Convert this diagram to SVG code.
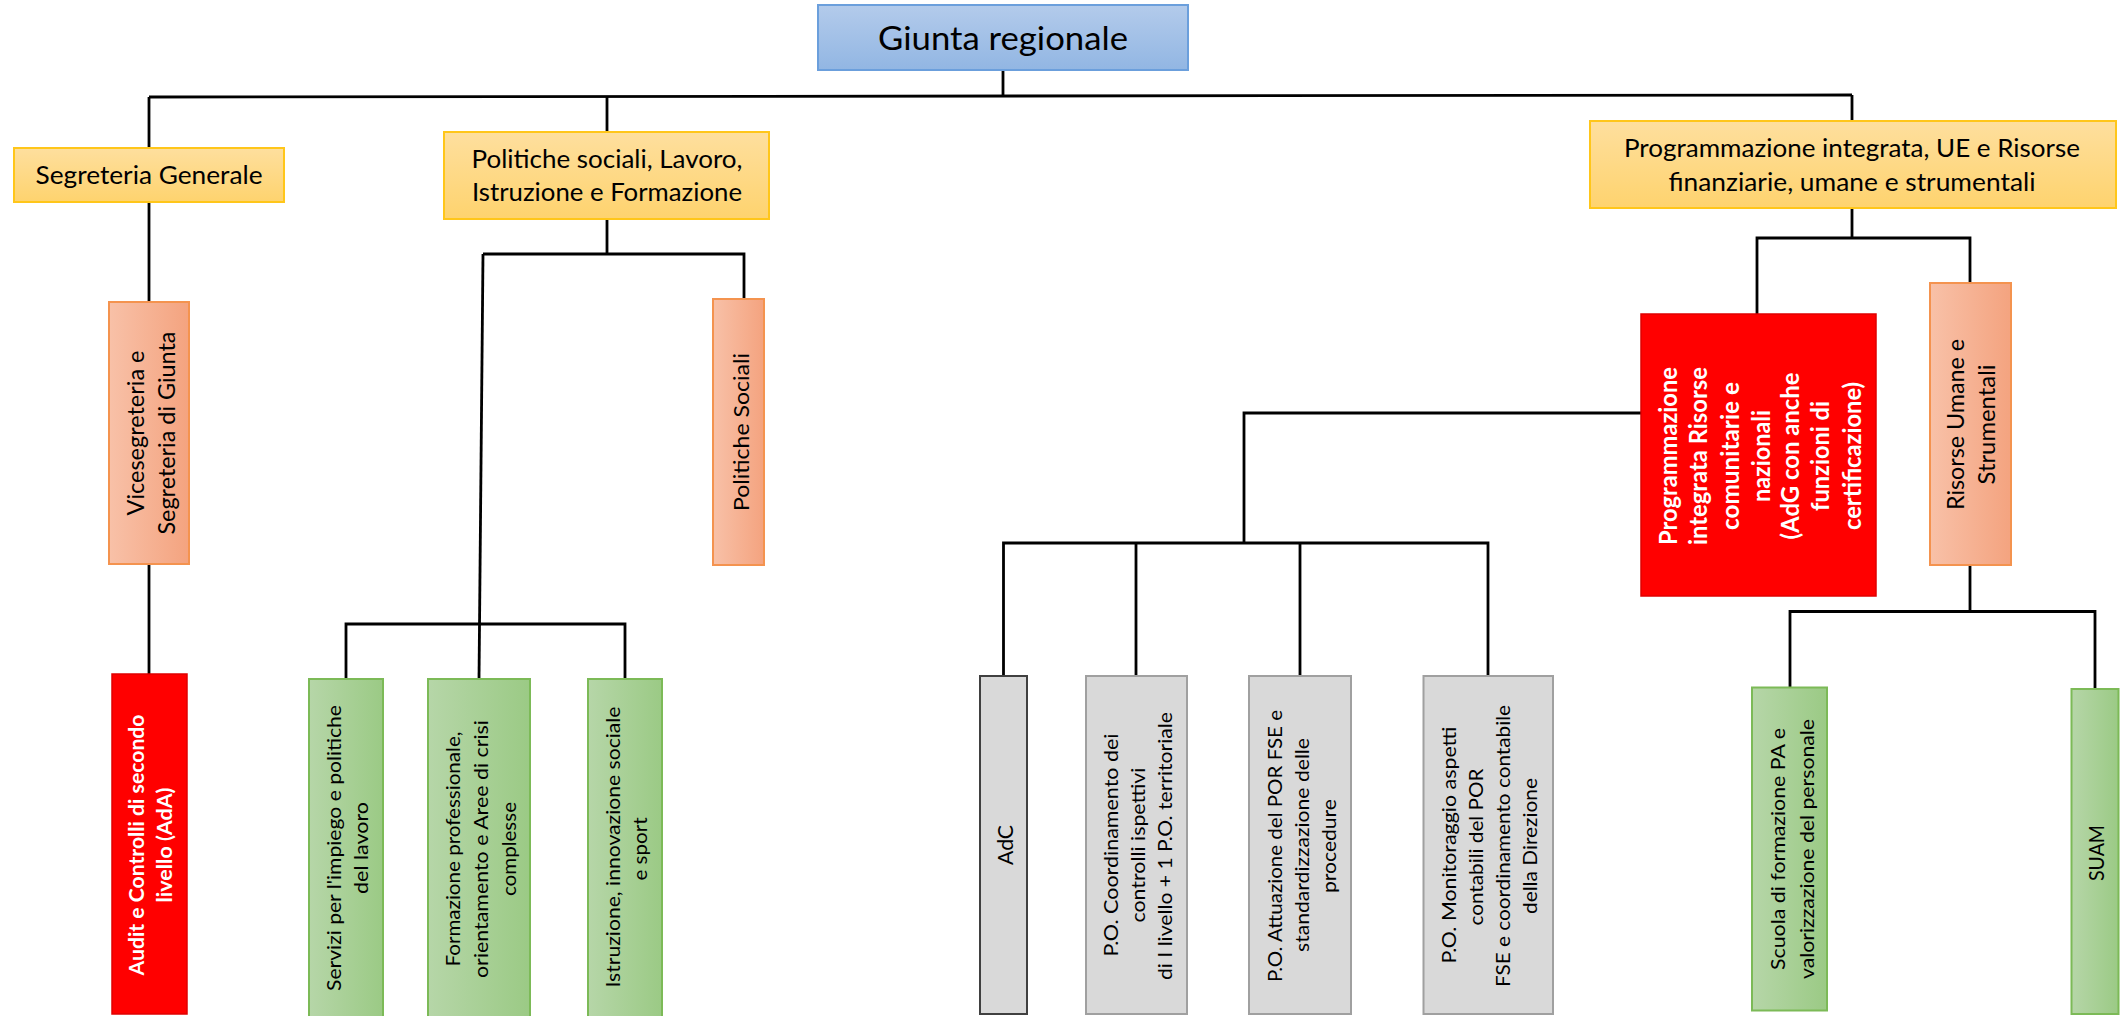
<svg xmlns="http://www.w3.org/2000/svg" width="2128" height="1016" viewBox="0 0 2128 1016">
<defs>
<linearGradient id="gBlue" x1="0" y1="0" x2="0" y2="1"><stop offset="0" stop-color="#b3cbeb"/><stop offset="1" stop-color="#92b6e3"/></linearGradient>
<linearGradient id="gYel" x1="0" y1="0" x2="0" y2="1"><stop offset="0" stop-color="#fedf9e"/><stop offset="1" stop-color="#fed36e"/></linearGradient>
<linearGradient id="gOr" x1="0" y1="0" x2="1" y2="0"><stop offset="0" stop-color="#f8c1a8"/><stop offset="1" stop-color="#f4a37f"/></linearGradient>
<linearGradient id="gGr" x1="0" y1="0" x2="1" y2="0"><stop offset="0" stop-color="#b6d6a8"/><stop offset="1" stop-color="#9bca85"/></linearGradient>
</defs>
<style>
text{font-family:Lato,"Liberation Sans",sans-serif;fill:#000;}
.c{text-anchor:middle;}
.r{text-anchor:middle;dominant-baseline:central;}
.w{fill:#fff;font-weight:bold;}
.blue{fill:url(#gBlue);stroke:#6b9fdc;stroke-width:2;}
.yel{fill:url(#gYel);stroke:#ffc61a;stroke-width:2;}
.or{fill:url(#gOr);stroke:#f4934f;stroke-width:2;}
.gr{fill:url(#gGr);stroke:#7cba57;stroke-width:2;}
.gy{fill:#d9d9d9;stroke:#a0a0a0;stroke-width:2;}
.red{fill:#ff0000;stroke:#e00000;stroke-width:1.5;}
#connectors path{fill:none;stroke:#000;stroke-width:2.8;}
</style>
<rect width="2128" height="1016" fill="#fff"/>
<g id="connectors">
<path d="M1003,70 V96"/>
<path d="M149,97 L1852,95"/>
<path d="M149,97 V148"/>
<path d="M607,96 V132"/>
<path d="M1852,95 V121"/>
<path d="M149,202 V302"/>
<path d="M149,564 V674"/>
<path d="M607,219 V254"/>
<path d="M483,254 H744 V299"/>
<path d="M483,254 L479,679"/>
<path d="M346,679 V624 H625 V679"/>
<path d="M1852,208 V238"/>
<path d="M1757,314 V238 H1970 V283"/>
<path d="M1641,413 H1244 V543"/>
<path d="M1003.5,676 V543 H1488 V676"/>
<path d="M1136,543 V676"/>
<path d="M1300,543 V676"/>
<path d="M1970,565 V611.5"/>
<path d="M1790,688 V611.5 H2095 V689"/>
</g>
<g id="giunta">
<rect class="blue" x="818" y="5" width="370" height="65"/>
<text class="c" x="1003" y="50" font-size="32" textLength="250" lengthAdjust="spacingAndGlyphs">Giunta regionale</text>
</g>
<g id="segreteria-generale">
<rect class="yel" x="14" y="148" width="270" height="54"/>
<text class="c" x="149" y="184" font-size="25" textLength="227" lengthAdjust="spacingAndGlyphs">Segreteria Generale</text>
</g>
<g id="politiche-sociali-lavoro">
<rect class="yel" x="444" y="132" width="325" height="87"/>
<text class="c" x="607" y="168" font-size="25" textLength="271" lengthAdjust="spacingAndGlyphs">Politiche sociali, Lavoro,</text>
<text class="c" x="607" y="201" font-size="25" textLength="270" lengthAdjust="spacingAndGlyphs">Istruzione e Formazione</text>
</g>
<g id="programmazione-integrata-ue">
<rect class="yel" x="1590" y="121" width="526" height="87"/>
<text class="c" x="1852" y="157" font-size="25" textLength="456" lengthAdjust="spacingAndGlyphs">Programmazione integrata, UE e Risorse</text>
<text class="c" x="1852" y="191" font-size="25" textLength="367" lengthAdjust="spacingAndGlyphs">finanziarie, umane e strumentali</text>
</g>
<g id="vicesegreteria">
<rect class="or" x="109" y="302" width="80" height="262"/>
<text class="r" x="135" y="433" font-size="23" transform="rotate(-90 135 433)" textLength="165" lengthAdjust="spacingAndGlyphs">Vicesegreteria e</text>
<text class="r" x="166" y="433" font-size="23" transform="rotate(-90 166 433)" textLength="203" lengthAdjust="spacingAndGlyphs">Segreteria di Giunta</text>
</g>
<g id="audit">
<rect class="red" x="112" y="674" width="75" height="340"/>
<text class="r w" x="135" y="845" font-size="21" transform="rotate(-90 135 845)" textLength="261" lengthAdjust="spacingAndGlyphs">Audit e Controlli di secondo</text>
<text class="r w" x="163" y="845" font-size="21" transform="rotate(-90 163 845)" textLength="115" lengthAdjust="spacingAndGlyphs">livello (AdA)</text>
</g>
<g id="politiche-sociali">
<rect class="or" x="713" y="299" width="51" height="266"/>
<text class="r" x="740" y="432" font-size="22" transform="rotate(-90 740 432)" textLength="158" lengthAdjust="spacingAndGlyphs">Politiche Sociali</text>
</g>
<g id="servizi-impiego">
<rect class="gr" x="309" y="679" width="74" height="345"/>
<text class="r" x="333" y="848" font-size="20" transform="rotate(-90 333 848)" textLength="286" lengthAdjust="spacingAndGlyphs">Servizi per l'impiego e politiche</text>
<text class="r" x="360" y="848" font-size="20" transform="rotate(-90 360 848)" textLength="92" lengthAdjust="spacingAndGlyphs">del lavoro</text>
</g>
<g id="formazione-professionale">
<rect class="gr" x="428" y="679" width="102" height="345"/>
<text class="r" x="451.5" y="849" font-size="20" transform="rotate(-90 451.5 849)" textLength="235" lengthAdjust="spacingAndGlyphs">Formazione professionale,</text>
<text class="r" x="479.5" y="849" font-size="20" transform="rotate(-90 479.5 849)" textLength="258" lengthAdjust="spacingAndGlyphs">orientamento e Aree di crisi</text>
<text class="r" x="507.5" y="849" font-size="20" transform="rotate(-90 507.5 849)" textLength="94" lengthAdjust="spacingAndGlyphs">complesse</text>
</g>
<g id="istruzione-innovazione">
<rect class="gr" x="588" y="679" width="74" height="345"/>
<text class="r" x="612" y="847" font-size="20" transform="rotate(-90 612 847)" textLength="281" lengthAdjust="spacingAndGlyphs">Istruzione, innovazione sociale</text>
<text class="r" x="639" y="849" font-size="20" transform="rotate(-90 639 849)" textLength="63" lengthAdjust="spacingAndGlyphs">e sport</text>
</g>
<g id="adc">
<rect class="gy" x="980" y="676" width="47" height="338" style="stroke:#404040"/>
<text class="r" x="1004" y="845" font-size="21" transform="rotate(-90 1004 845)" textLength="40" lengthAdjust="spacingAndGlyphs">AdC</text>
</g>
<g id="po-coordinamento">
<rect class="gy" x="1086" y="676" width="101" height="338"/>
<text class="r" x="1109.5" y="845" font-size="20" transform="rotate(-90 1109.5 845)" textLength="223" lengthAdjust="spacingAndGlyphs">P.O. Coordinamento dei</text>
<text class="r" x="1136.5" y="845" font-size="20" transform="rotate(-90 1136.5 845)" textLength="155" lengthAdjust="spacingAndGlyphs">controlli ispettivi</text>
<text class="r" x="1163.5" y="846" font-size="20" transform="rotate(-90 1163.5 846)" textLength="268" lengthAdjust="spacingAndGlyphs">di I livello + 1 P.O. territoriale</text>
</g>
<g id="po-attuazione">
<rect class="gy" x="1249" y="676" width="102" height="338"/>
<text class="r" x="1273.5" y="846" font-size="20" transform="rotate(-90 1273.5 846)" textLength="272" lengthAdjust="spacingAndGlyphs">P.O. Attuazione del POR FSE e</text>
<text class="r" x="1300.5" y="845" font-size="20" transform="rotate(-90 1300.5 845)" textLength="214" lengthAdjust="spacingAndGlyphs">standardizzazione  delle</text>
<text class="r" x="1327.5" y="846" font-size="20" transform="rotate(-90 1327.5 846)" textLength="94" lengthAdjust="spacingAndGlyphs">procedure</text>
</g>
<g id="po-monitoraggio">
<rect class="gy" x="1423.5" y="676" width="129.5" height="338"/>
<text class="r" x="1447.5" y="845" font-size="20" transform="rotate(-90 1447.5 845)" textLength="237" lengthAdjust="spacingAndGlyphs">P.O. Monitoraggio aspetti</text>
<text class="r" x="1474.5" y="847" font-size="20" transform="rotate(-90 1474.5 847)" textLength="157" lengthAdjust="spacingAndGlyphs">contabili del POR</text>
<text class="r" x="1501.5" y="846" font-size="20" transform="rotate(-90 1501.5 846)" textLength="282" lengthAdjust="spacingAndGlyphs">FSE e coordinamento contabile</text>
<text class="r" x="1528.5" y="846" font-size="20" transform="rotate(-90 1528.5 846)" textLength="136" lengthAdjust="spacingAndGlyphs">della Direzione</text>
</g>
<g id="programmazione-risorse">
<rect class="red" x="1641" y="314" width="235" height="282"/>
<text class="r w" x="1667.5" y="456" font-size="24" transform="rotate(-90 1667.5 456)" textLength="178" lengthAdjust="spacingAndGlyphs">Programmazione</text>
<text class="r w" x="1697.5" y="456" font-size="24" transform="rotate(-90 1697.5 456)" textLength="178" lengthAdjust="spacingAndGlyphs">integrata Risorse</text>
<text class="r w" x="1729.5" y="456" font-size="24" transform="rotate(-90 1729.5 456)" textLength="148" lengthAdjust="spacingAndGlyphs">comunitarie e</text>
<text class="r w" x="1760" y="456" font-size="24" transform="rotate(-90 1760 456)" textLength="92" lengthAdjust="spacingAndGlyphs">nazionali</text>
<text class="r w" x="1789" y="456" font-size="24" transform="rotate(-90 1789 456)" textLength="167" lengthAdjust="spacingAndGlyphs">(AdG con anche</text>
<text class="r w" x="1819" y="456" font-size="24" transform="rotate(-90 1819 456)" textLength="110" lengthAdjust="spacingAndGlyphs">funzioni di</text>
<text class="r w" x="1851" y="456" font-size="24" transform="rotate(-90 1851 456)" textLength="148" lengthAdjust="spacingAndGlyphs">certificazione)</text>
</g>
<g id="risorse-umane">
<rect class="or" x="1930" y="283" width="81" height="282"/>
<text class="r" x="1955" y="424.5" font-size="23" transform="rotate(-90 1955 424.5)" textLength="171" lengthAdjust="spacingAndGlyphs">Risorse Umane e</text>
<text class="r" x="1985.5" y="424.5" font-size="23" transform="rotate(-90 1985.5 424.5)" textLength="120" lengthAdjust="spacingAndGlyphs">Strumentali</text>
</g>
<g id="scuola-formazione">
<rect class="gr" x="1752" y="687.5" width="75" height="323"/>
<text class="r" x="1777" y="849" font-size="20" transform="rotate(-90 1777 849)" textLength="242" lengthAdjust="spacingAndGlyphs">Scuola di formazione PA e</text>
<text class="r" x="1805.5" y="849" font-size="20" transform="rotate(-90 1805.5 849)" textLength="260" lengthAdjust="spacingAndGlyphs">valorizzazione del personale</text>
</g>
<g id="suam">
<rect class="gr" x="2071.5" y="689" width="47" height="325"/>
<text class="r" x="2095.5" y="853" font-size="22" transform="rotate(-90 2095.5 853)" textLength="56" lengthAdjust="spacingAndGlyphs">SUAM</text>
</g>
</svg>
